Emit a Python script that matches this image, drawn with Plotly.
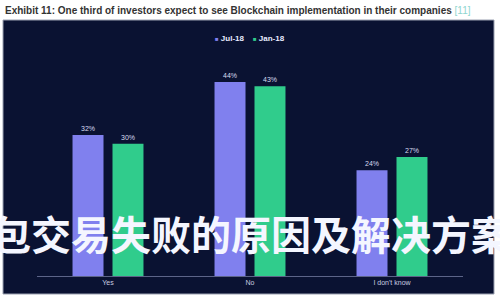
import plotly.graph_objects as go

categories = ["Yes", "No", "I don't know"]
jul18 = [32, 44, 24]
jan18 = [30, 43, 27]
series_names = ["Jul-18", "Jan-18"]
series_colors = ["#8080ee", "#30cc8c"]
title_text = "Exhibit 11: One third of investors expect to see Blockchain implementation in their companies"
ref_text = "[11]"
overlay_text = "包交易失败的原因及解决方案"

W, H = 500, 300
L, R, T, B = 37, 37, 56, 24
pw, ph = W - L - R, H - T - B

def px_x(x):
    return (x - L) / pw

def px_y(y):
    return (H - B - y) / ph

fig = go.Figure()
for name, vals, col in zip(series_names, [jul18, jan18], series_colors):
    fig.add_trace(go.Bar(x=categories, y=vals, name=name,
                         marker=dict(color=col, line=dict(width=0)),
                         texttemplate="%{y}%", textposition="outside",
                         textfont=dict(size=7, color="#d8dcf0"), cliponaxis=False))

fig.update_layout(
    width=W, height=H,
    margin=dict(l=L, r=R, t=T, b=B, pad=0),
    paper_bgcolor="white",
    plot_bgcolor="rgba(0,0,0,0)",
    barmode="group", bargap=0.437, bargroupgap=0.225,
    font=dict(family="Liberation Sans, Arial, sans-serif"),
    showlegend=False,
    xaxis=dict(showline=True, linecolor="#5c6488", linewidth=1, showgrid=False,
               zeroline=False, ticks="", tickfont=dict(size=7, color="#c8cce0")),
    yaxis=dict(visible=False, range=[0, ph / 4.41], showgrid=False, zeroline=False),
    shapes=[dict(type="rect", xref="paper", yref="paper", layer="below",
                 x0=px_x(3), x1=px_x(494), y0=px_y(294), y1=px_y(20),
                 fillcolor="#0a1232", line=dict(color="#9aa0b0", width=1))],
)

legend_html = "&nbsp;&nbsp;&nbsp;&nbsp;".join(
    "<span style='color:%s;font-size:6px'>■</span> <b>%s</b>" % (c, n)
    for n, c in zip(series_names, series_colors))
fig.add_annotation(xref="paper", yref="paper", x=px_x(250), y=px_y(39),
                   xanchor="center", yanchor="middle", showarrow=False,
                   text=legend_html,
                   font=dict(size=8, color="#e8ecff", family="Liberation Sans, Arial, sans-serif"))

fig.add_annotation(xref="paper", yref="paper", x=px_x(3), y=px_y(10),
                   xanchor="left", yanchor="middle", showarrow=False,
                   text="<b>" + title_text + "</b> <span style='color:#8fd6cf'>" + ref_text + "</span>",
                   font=dict(size=10, color="#333333", family="Liberation Sans, Arial, sans-serif"))

fig.add_annotation(xref="paper", yref="paper", x=px_x(251), y=px_y(233),
                   xanchor="center", yanchor="middle", showarrow=False,
                   text="<b>" + overlay_text + "</b>",
                   font=dict(size=40, color="#f4f6ff", family="Noto Sans CJK SC"))

fig.write_html("out.html")
